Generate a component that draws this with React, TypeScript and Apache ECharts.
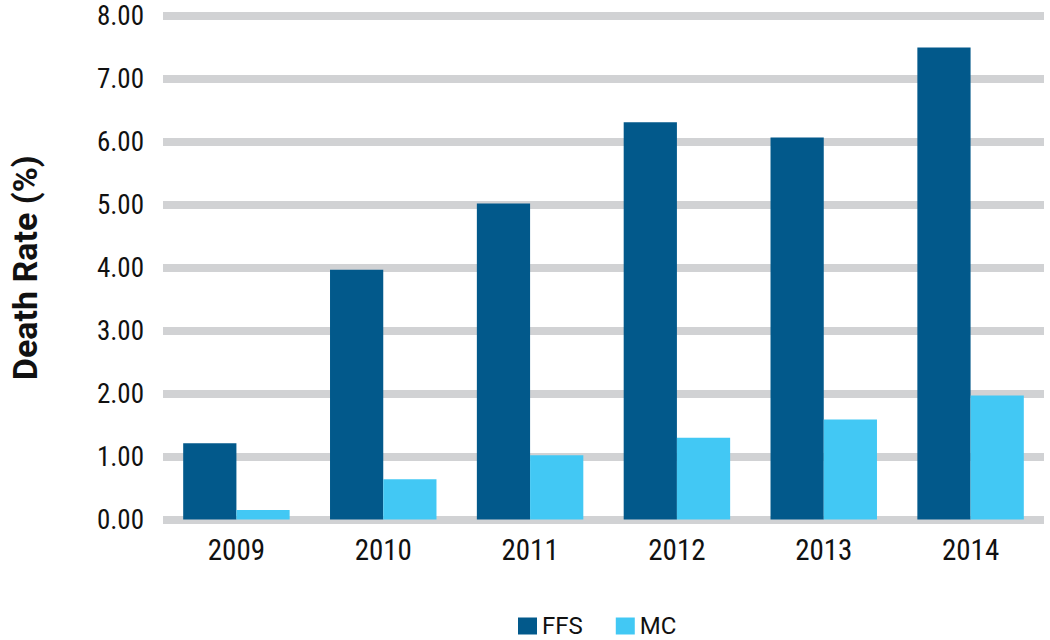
import React, { useEffect, useRef } from "react";
import * as echarts from "echarts";

const years = ["2009", "2010", "2011", "2012", "2013", "2014"];
const ffs = [1.21, 3.97, 5.02, 6.31, 6.07, 7.5];
const mc = [0.15, 0.64, 1.02, 1.3, 1.59, 1.97];
const NARROW = "'Liberation Sans Narrow', 'Roboto Condensed', Roboto, sans-serif";
const FONT = "Roboto, 'DejaVu Sans', sans-serif";

export default function App() {
  const ref = useRef<HTMLDivElement>(null);
  useEffect(() => {
    const chart = echarts.init(ref.current!, null, { renderer: "svg" });
    chart.setOption({
      animation: false,
      grid: { left: 157, right: 6, top: 16, bottom: 120.5 },
      legend: {
        left: 518,
        top: 612,
        padding: 0,
        icon: "rect",
        itemWidth: 19,
        itemHeight: 17,
        itemGap: 33,
        textStyle: { fontFamily: FONT, fontSize: 24, lineHeight: 28, color: "#111" },
        data: ["FFS", "MC"],
      },
      xAxis: {
        type: "category",
        data: years,
        axisLine: { show: false },
        axisTick: { show: false },
        axisLabel: { fontFamily: NARROW, fontSize: 29, color: "#111", margin: 16 },
      },
      yAxis: {
        type: "value",
        min: 0,
        max: 8,
        interval: 1,
        name: "Death Rate (%)",
        nameLocation: "middle",
        nameGap: 121,
        nameTextStyle: { fontFamily: FONT, fontSize: 34, fontWeight: "bold", color: "#111" },
        axisLine: { show: false },
        axisTick: { show: false },
        axisLabel: {
          fontFamily: NARROW,
          fontSize: 27,
          color: "#111",
          margin: 19,
          formatter: (v: number) => v.toFixed(2),
        },
        splitLine: { lineStyle: { color: "#D1D2D4", width: 8 } },
      },
      series: [
        {
          name: "FFS",
          type: "bar",
          data: ffs,
          barGap: "0%",
          barCategoryGap: "27.5%",
          itemStyle: { color: "#02598B" },
        },
        {
          name: "MC",
          type: "bar",
          data: mc,
          itemStyle: { color: "#42C8F4" },
        },
      ],
    });
    return () => chart.dispose();
  }, []);
  return <div ref={ref} style={{ width: 1050, height: 640, position: "absolute", left: 0, top: 0 }} />;
}
